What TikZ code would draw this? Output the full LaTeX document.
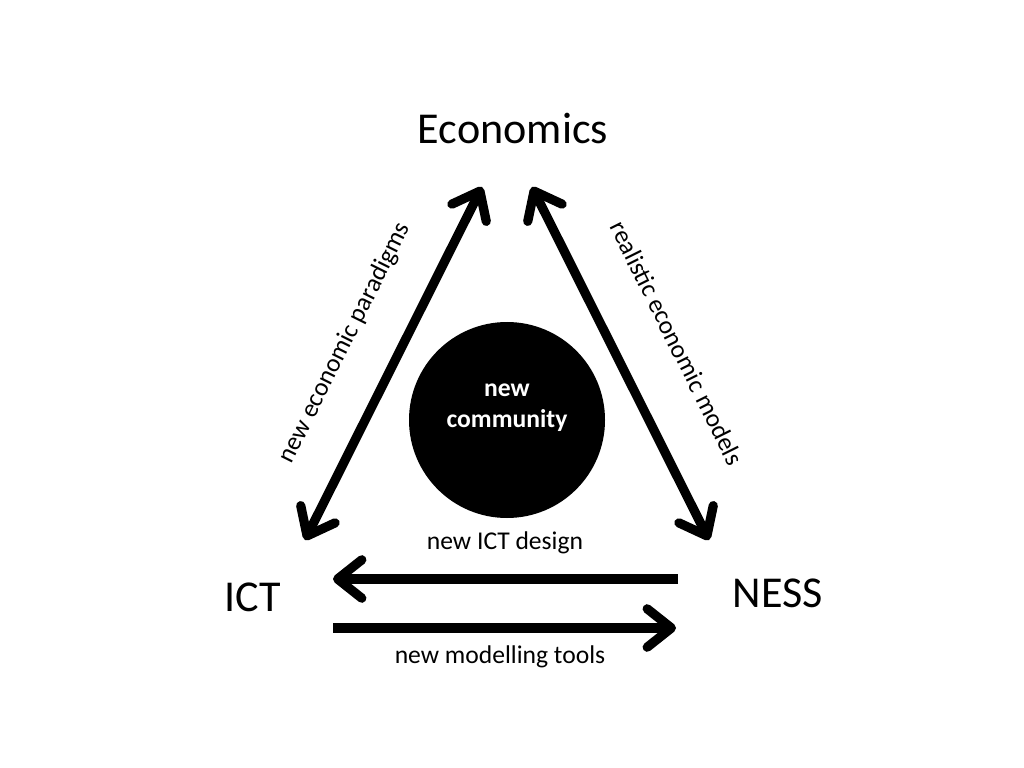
\documentclass[tikz,border=0pt]{standalone}
\usepackage{fontspec}
\setmainfont{Carlito}
\usetikzlibrary{arrows.meta}
\begin{document}
\begin{tikzpicture}[x=0.703125pt,y=-0.703125pt,
  big/.style={font=\fontsize{31}{36}\selectfont, inner sep=0pt},
  lab/.style={font=\fontsize{18}{21}\selectfont, inner sep=0pt},
  conn/.style={line width=6.5pt, line cap=butt,
    arrows={-Straight Barb[length=17pt,width=27pt,line cap=round,line join=round]}},
  dconn/.style={line width=6.5pt, line cap=butt,
    arrows={Straight Barb[length=17pt,width=27pt,line cap=round,line join=round]-Straight Barb[length=17pt,width=27pt,line cap=round,line join=round]}}]
\useasboundingbox (0,0) rectangle (1024,768);
\node[big] (econ) at (513,128) {Economics};
\node[big] (ict) at (253,597) {ICT};
\node[big] (ness) at (778,593) {NESS};
\node[circle, fill=black, minimum size=196*0.703125pt, inner sep=0pt] (comm) at (507,420) {};
\node[lab, font=\fontsize{18}{21}\selectfont\bfseries, text=white] (t1) at (507,390) {new};
\node[lab, font=\fontsize{18}{21}\selectfont\bfseries, text=white] (t2) at (507,421) {community};
\coordinate (lt) at (482,187);
\coordinate (lb) at (305,540);
\coordinate (rt) at (532,187);
\coordinate (rb) at (709,540);
\coordinate (h1s) at (678,579);
\coordinate (h1e) at (333,579);
\coordinate (h2s) at (333,628);
\coordinate (h2e) at (676,628);
\draw[dconn] (lb) -- (lt);
\draw[dconn] (rt) -- (rb);
\draw[conn] (h1s) -- (h1e);
\draw[conn] (h2s) -- (h2e);
\node[lab, rotate=63.5] (lblL) at (345,343) {new economic paradigms};
\node[lab, rotate=-63.5] (lblR) at (677,343) {realistic economic models};
\node[lab] (lblT) at (505,543) {new ICT design};
\node[lab] (lblB) at (500,657) {new modelling tools};
\end{tikzpicture}
\end{document}
